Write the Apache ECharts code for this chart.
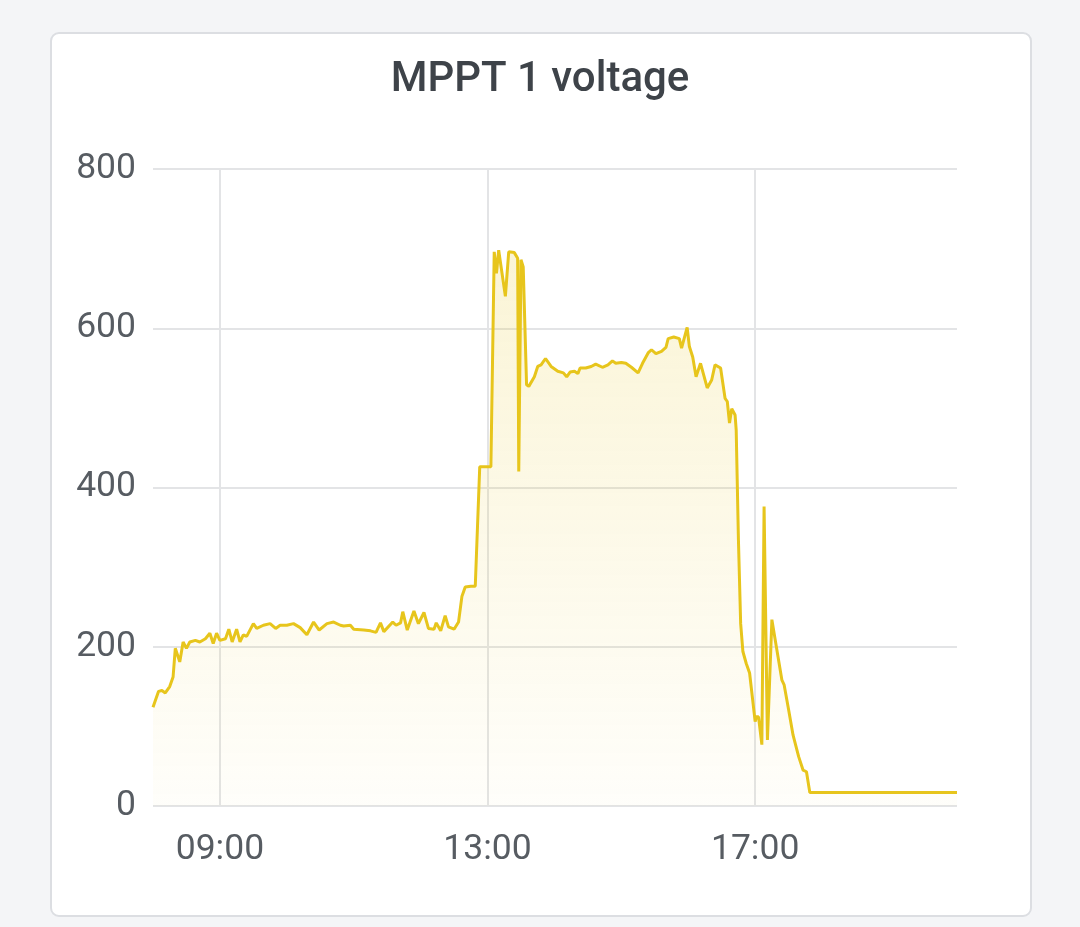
<!DOCTYPE html>
<html>
<head>
<meta charset="utf-8">
<script src="https://cdn.jsdelivr.net/npm/echarts@6/dist/echarts.min.js"></script>
<style>
  html, body { margin: 0; padding: 0; width: 1080px; height: 927px; background: #f4f5f7; overflow: hidden; }
  #card { position: absolute; left: 50px; top: 32px; width: 978px; height: 881px; background: #ffffff;
          border: 2px solid #dcdee2; border-radius: 9px; box-sizing: content-box; }
  #chart { position: absolute; left: 0; top: 0; width: 1080px; height: 927px; }
</style>
</head>
<body>
<div id="card"></div>
<div id="chart"></div>
<script>
const chartTitle = 'MPPT 1 voltage';
const times = [
  '08:00','08:05','08:08','08:11','08:15','08:18','08:20','08:24','08:27','08:30',
  '08:33','08:38','08:42','08:47','08:51','08:54','08:57','09:00','09:05','09:08',
  '09:11','09:15','09:18','09:21','09:24','09:30','09:33','09:39','09:45','09:50',
  '09:54','10:00','10:06','10:12','10:18','10:24','10:29','10:36','10:42','10:48',
  '10:51','10:57','11:00','11:09','11:15','11:20','11:24','11:27','11:35','11:38',
  '11:42','11:44','11:48','11:54','11:58','12:03','12:07','12:12','12:14','12:18',
  '12:22','12:25','12:30','12:34','12:37','12:40','12:45','12:49','12:53','13:03',
  '13:06','13:08','13:10','13:16','13:19','13:24','13:27','13:28','13:30','13:32',
  '13:35','13:37','13:42','13:45','13:48','13:52','13:57','14:03','14:08','14:11',
  '14:14','14:18','14:21','14:23','14:28','14:33','14:37','14:43','14:48','14:52',
  '14:55','15:00','15:04','15:09','15:15','15:19','15:24','15:27','15:31','15:36',
  '15:40','15:42','15:47','15:52','15:54','15:59','16:01','16:04','16:07','16:11',
  '16:17','16:21','16:24','16:29','16:33','16:35','16:37','16:39','16:42','16:43',
  '16:45','16:47','16:49','16:52','16:55','17:00','17:01','17:03','17:06','17:08',
  '17:11','17:15','17:19','17:24','17:26','17:30','17:34','17:39','17:43','17:46',
  '17:49','18:30','19:15','20:01'
];
const voltage = [
  124,144,145,142,150,162,198,181,206,198,
  206,208,206,210,217,204,217,208,210,222,
  206,222,206,215,213,229,223,227,229,223,
  227,227,229,224,215,231,221,229,231,227,
  226,227,222,221,220,218,230,219,231,227,
  230,244,221,245,229,243,223,222,230,220,
  239,225,222,231,263,275,276,276,426,426,
  696,669,698,640,696,695,688,420,686,677,
  529,527,539,552,554,562,552,546,544,539,
  545,546,543,550,550,552,555,551,554,559,
  556,557,556,551,544,556,569,573,568,571,
  576,587,589,587,575,601,577,564,539,556,
  525,535,554,550,512,508,481,499,491,472,
  334,229,194,179,167,106,112,112,77,376,
  83,234,200,158,152,121,89,62,45,43,
  17,17,17,17
];
const xTickLabels = ['09:00','13:00','17:00'];
const yTicks = [0, 200, 400, 600, 800];

function toHours(s) { const p = s.split(':'); return +p[0] + (+p[1]) / 60; }
function fmt(h) {
  const tot = Math.round(h * 60);
  const hh = Math.floor(tot / 60), mm = tot % 60;
  return String(hh).padStart(2, '0') + ':' + String(mm).padStart(2, '0');
}
const seriesData = times.map((t, i) => [toHours(t), voltage[i]]);
const xTickValues = xTickLabels.map(toHours);

const chart = echarts.init(document.getElementById('chart'), null, { renderer: 'canvas' });
const labelColor = '#575c62';
const gridColor = '#e3e4e6';
chart.setOption({
  backgroundColor: 'transparent',
  animation: false,
  title: {
    text: chartTitle,
    left: 'center',
    top: 54,
    textStyle: { fontFamily: 'Roboto', fontSize: 42, fontWeight: 500, color: '#3e4349' }
  },
  grid: { left: 153, right: 123, top: 169, bottom: 121, containLabel: false },
  xAxis: {
    type: 'value',
    min: toHours(times[0]),
    max: toHours(times[times.length - 1]),
    axisLine: { show: false },
    axisTick: { show: false, customValues: xTickValues },
    axisLabel: {
      customValues: xTickValues,
      formatter: (v) => fmt(v),
      fontFamily: 'Roboto', fontSize: 35.5, color: labelColor, margin: 26
    },
    splitLine: { show: true, lineStyle: { color: gridColor, width: 2 } }
  },
  yAxis: {
    type: 'value',
    min: yTicks[0],
    max: yTicks[yTicks.length - 1],
    interval: 200,
    axisLine: { show: false },
    axisTick: { show: false },
    axisLabel: { fontFamily: 'Roboto', fontSize: 35.5, color: labelColor, margin: 17 },
    splitLine: { show: true, lineStyle: { color: gridColor, width: 2 } }
  },
  series: [{
    type: 'line',
    data: seriesData,
    showSymbol: false,
    smooth: false,
    lineStyle: { color: '#e7c51c', width: 3 },
    itemStyle: { color: '#e7c51c' },
    areaStyle: {
      color: new echarts.graphic.LinearGradient(0, 0, 0, 1, [
        { offset: 0, color: 'rgba(231,197,28,0.26)' },
        { offset: 1, color: 'rgba(231,197,28,0.03)' }
      ])
    }
  }]
});
</script>
</body>
</html>
